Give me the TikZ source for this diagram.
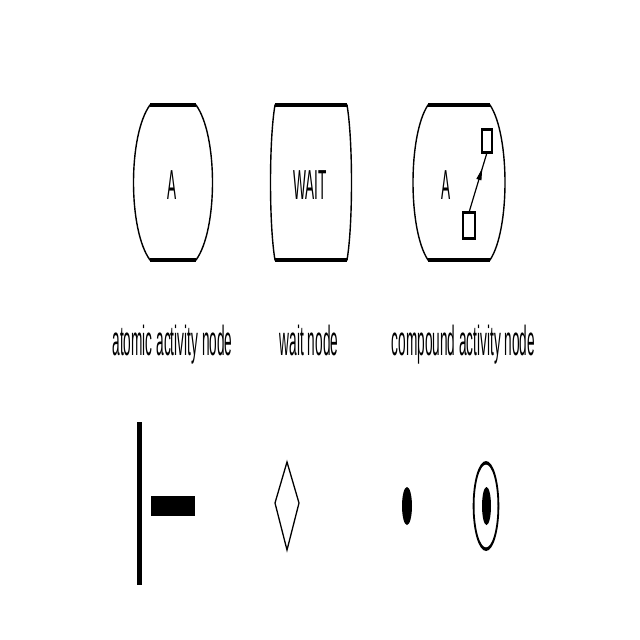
\documentclass[tikz,border=0pt]{standalone}
\usepackage{fontspec}
\setmainfont{Liberation Sans}
\usetikzlibrary{arrows.meta,decorations.markings}
\newcommand\sqz[1]{\scalebox{0.325}[1]{#1}}
\tikzset{
  outline/.style={draw=black, line width=1.4pt},
  bar/.style={draw=black, line width=3.6pt},
  thinbar/.style={draw=black, line width=3pt},
  txt/.style={inner sep=0pt, anchor=base, font=\fontsize{42}{50}\selectfont},
  subbox/.style={draw=black, line width=1.2pt, inner sep=0pt, minimum width=10pt},
  midarrow/.style={decoration={markings, mark=at position 0.74 with {\arrow{Triangle[length=12pt,width=5pt]}}}, postaction={decorate}},
}
\begin{document}
\begin{tikzpicture}[x=1pt,y=-1pt]
\useasboundingbox[fill=white] (0,0) rectangle (640,640);

% atomic activity node
\draw[outline] (150,105) -- (196,105) .. controls (218,135) and (218,230) .. (196,260)
  -- (150,260) .. controls (128,230) and (128,135) .. (150,105) -- cycle;
\draw[bar] (150,105) -- (196,105);
\draw[bar] (150,260) -- (196,260);
\node[txt] (atomA) at (172,199) {\sqz{A}};

% wait node
\draw[outline] (275,105) -- (347,105) .. controls (353,140) and (353,225) .. (347,260)
  -- (275,260) .. controls (269,225) and (269,140) .. (275,105) -- cycle;
\draw[bar] (275,105) -- (347,105);
\draw[bar] (275,260) -- (347,260);
\node[txt] (waitT) at (310,199) {\sqz{WAIT}};

% compound activity node
\draw[outline] (428,105) -- (490,105) .. controls (510,135) and (510,230) .. (490,260)
  -- (428,260) .. controls (408,230) and (408,135) .. (428,105) -- cycle;
\draw[bar] (428,105) -- (490,105);
\draw[bar] (428,260) -- (490,260);
\node[txt] (compA) at (446,199) {\sqz{A}};
\node[subbox, minimum height=22pt] (r1) at (487,141) {};
\node[subbox, minimum height=25pt, minimum width=12pt] (r2) at (469,225.5) {};
\draw[thinbar] (r1.north west) -- (r1.north east);
\draw[thinbar] (r1.south west) -- (r1.south east);
\draw[thinbar] (r2.north west) -- (r2.north east);
\draw[thinbar] (r2.south west) -- (r2.south east);
\draw[line width=1.2pt, midarrow] (r2.north) -- (r1.south);

% labels
\node[txt] (l1) at (172.5,355) {\sqz{atomic activity node}};
\node[txt] (l2) at (309,355) {\sqz{wait node}};
\node[txt] (l3) at (463.5,355) {\sqz{compound activity node}};

% bottom row
\node[fill=black, inner sep=0pt, minimum width=4.5pt, minimum height=163pt] (forkbar) at (139.5,503.5) {};
\node[fill=black, inner sep=0pt, minimum width=44pt, minimum height=20pt] (blk) at (173,506) {};
\draw[line width=1.3pt] (287,462) -- (299,503) -- (287,550) -- (275,503) -- cycle;
\fill[black] (407,506) ellipse [x radius=5, y radius=19];
\fill[black, even odd rule] (486,506) ellipse [x radius=13.3, y radius=45]
  (486,506) ellipse [x radius=11.5, y radius=41.5];
\fill[black] (486.5,506) ellipse [x radius=4.5, y radius=19];
\end{tikzpicture}
\end{document}
